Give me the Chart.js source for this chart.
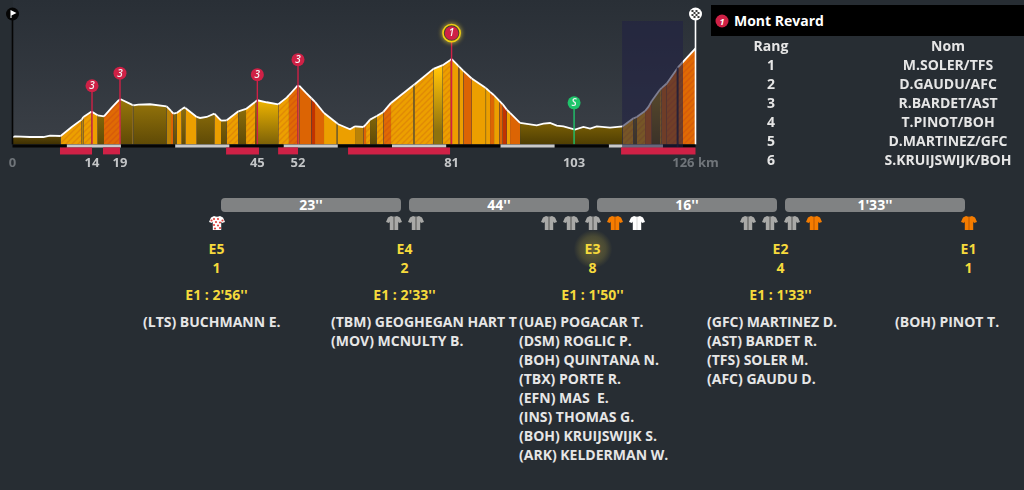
<!DOCTYPE html>
<html lang="fr">
<head>
<meta charset="utf-8">
<title>Mont Revard</title>
<script src="https://cdn.jsdelivr.net/npm/chart.js@4"></script>
<style>
    html, body { margin: 0; padding: 0; width: 1024px; height: 490px; overflow: hidden; background: #272d33; }
    body { position: relative; font-family: "Open Sans", sans-serif; font-weight: 700; font-size: 14px; color: #e6e6e6; }
    #profile { position: absolute; left: 0; top: 0; background: linear-gradient(#292f36 0, #3a3f46 144px) 13px 0 / 683px 144px no-repeat; }
    .t { position: absolute; height: 20px; line-height: 20px; white-space: pre; text-align: center; }
    .rider { text-align: left; }
    .yellow { color: #f6da3c; font-size: 14px; }
    .gap { position: absolute; top: 198px; width: 180px; height: 14px; line-height: 14px; background: #808283; border-radius: 4px; color: #fff; font-size: 14px; text-align: center; }
    .jerseys { position: absolute; top: 215px; width: 180px; height: 16px; display: flex; justify-content: center; gap: 6px; }
    .glow { position: absolute; width: 40px; height: 40px; background: radial-gradient(circle, rgba(246,218,60,.3) 0, rgba(246,218,60,.16) 45%, rgba(246,218,60,0) 68%); }
    #head { position: absolute; left: 711px; top: 5px; width: 313px; height: 31px; background: #000; }
    #head svg { position: absolute; left: 4px; top: 9px; }
    #head span { position: absolute; left: 23px; top: 0; line-height: 31px; font-size: 14px; color: #fff; }
</style>
</head>
<body>
<canvas id="profile" width="720" height="176"></canvas>
<div id="head">
    <svg width="14" height="14"><circle cx="7" cy="7" r="6.5" fill="#cf2146"/><text x="7" y="10.5" text-anchor="middle" font-size="9" font-style="italic" fill="#fff" font-family="Open Sans">1</text></svg>
    <span>Mont Revard</span>
</div>

<script>
// Stage profile: one tone per segment, the segment starts at that point
const profileKm = [0, 0.46, 3.23, 5.69, 6.92, 8.89, 10.92, 12.76, 13.07, 14.6, 15.71, 16.88, 18.3, 19.65, 19.96, 22.11, 22.29, 23.22, 25.37, 28.44, 29.24, 29.67, 30.29, 31.21, 31.7, 31.89, 33.06, 33.98, 34.6, 35.82, 37.24, 38.47, 39.52, 41.67, 43.08, 44.74, 45.17, 46.89, 49.04, 50.58, 51.0, 52.6, 52.92, 54.15, 55.14, 55.81, 57.47, 59.81, 59.99, 62.27, 63.19, 64.73, 65.22, 65.96, 67.19, 68.42, 69.83, 73.95, 74.2, 77.65, 79.37, 80.72, 81.03, 82.26, 82.44, 83.18, 84.72, 87.18, 87.36, 88.1, 88.84, 89.82, 90.44, 91.18, 91.79, 93.64, 96.71, 97.94, 99.17, 100.4, 101.63, 103.78, 105.32, 106.55, 107.78, 110.24, 112.58, 114.55, 115.16, 116.7, 117.31, 117.93, 119.46, 119.77, 120.7, 122.85, 126];
const profileAlt = [110, 120, 110, 110, 130, 125, 260, 370, 410, 490, 435, 420, 550, 665, 675, 590, 585, 595, 600, 570, 500, 460, 470, 525, 550, 545, 470, 410, 395, 410, 460, 355, 360, 495, 530, 635, 660, 630, 600, 700, 735, 880, 875, 770, 690, 635, 470, 320, 305, 225, 270, 260, 300, 370, 425, 485, 620, 885, 900, 1130, 1185, 1260, 1275, 1175, 1160, 1100, 985, 850, 840, 785, 735, 650, 600, 520, 470, 320, 285, 310, 320, 280, 270, 220, 260, 235, 270, 250, 270, 390, 410, 500, 560, 650, 820, 845, 910, 1160, 1435];
const profileTone = ['D', 'D', 'D', 'D', 'D', 'H', 'H', 'M', 'H', 'O', 'G', 'RH', 'RH', 'H', 'G', 'O', 'G', 'G', 'G', 'M', 'R', 'G', 'O', 'G', 'G', 'O', 'O', 'G', 'G', 'G', 'O', 'G', 'H', 'G', 'H', 'G', 'Y', 'Y', 'H', 'H', 'RH', 'O', 'R', 'R', 'X', 'R', 'O', 'M', 'O', 'O', 'M', 'R', 'H', 'G', 'H', 'RH', 'H', 'M', 'H', 'V', 'H', 'R', 'O', 'R', 'O', 'R', 'O', 'M', 'O', 'R', 'O', 'R', 'X', 'O', 'R', 'B', 'B', 'B', 'B', 'B', 'B', 'B', 'B', 'B', 'B', 'B', 'H', 'G', 'H', 'R', 'R', 'G', 'H', 'R', 'RH', 'RH', 'RH'];

// Axis labels
const tickKm = [0, 14.67, 19.83, 45.17, 52.67, 81, 103.6, 126];
const tickLabels = ['0', '14', '19', '45', '52', '81', '103', '126 km'];

// Climbs and sprint
const markerKm = [14.67, 19.83, 45.17, 52.67, 81, 103.6];
const markerTop = [877, 1065, 1042, 1267, 1665, 622];
const markerLabels = ['3', '3', '3', '3', '1', 'S'];

// Ground strip, red climb bars and the shaded stretch
const stripKm = [0, 10, 20, 30, 40, 50, 60, 70, 80, 90, 100, 110, 120, 126];
const climbStart = [8.76, 16.7, 39.4, 49, 61.9, 112.27];
const climbEnd = [14.67, 19.83, 45.47, 52.67, 80.72, 126];
const shadeKm = [112.45, 123.7];
const shadeLineKm = 122.7;

// Right table
const rankTitle = 'Mont Revard';
const rankNumbers = ['1', '2', '3', '4', '5', '6'];
const rankNames = ['M.SOLER/TFS', 'D.GAUDU/AFC', 'R.BARDET/AST', 'T.PINOT/BOH', 'D.MARTINEZ/GFC', 'S.KRUIJSWIJK/BOH'];

// Race groups
const gapLabels = ["23''", "44''", "16''", "1'33''"];
const groupNames = ['E5', 'E4', 'E3', 'E2', 'E1'];
const groupCounts = ['1', '2', '8', '4', '1'];
const groupDelays = ["E1 : 2'56''", "E1 : 2'33''", "E1 : 1'50''", "E1 : 1'33''", ''];
const groupJerseys = [['dots'], ['gray', 'gray'], ['gray', 'gray', 'gray', 'orange', 'white'], ['gray', 'gray', 'gray', 'orange'], ['orange']];
const groupRiders = [
    ['(LTS) BUCHMANN E.'],
    ['(TBM) GEOGHEGAN HART T', '(MOV) MCNULTY B.'],
    ['(UAE) POGACAR T.', '(DSM) ROGLIC P.', '(BOH) QUINTANA N.', '(TBX) PORTE R.', '(EFN) MAS  E.', '(INS) THOMAS G.', '(BOH) KRUIJSWIJK S.', '(ARK) KELDERMAN W.'],
    ['(GFC) MARTINEZ D.', '(AST) BARDET R.', '(TFS) SOLER M.', '(AFC) GAUDU D.'],
    ['(BOH) PINOT T.']
];

const RED = '#cf2146';
const GREEN = '#1fc46b';
const toneCache = {};

function hatch(base, stripe) {
    const c = document.createElement('canvas');
    c.width = 6;
    c.height = 6;
    const g = c.getContext('2d');
    g.fillStyle = base;
    g.fillRect(0, 0, 6, 6);
    g.strokeStyle = stripe;
    g.lineWidth = 1.4;
    g.beginPath();
    g.moveTo(-1, 7); g.lineTo(7, -1);
    g.moveTo(-1, 1); g.lineTo(1, -1);
    g.moveTo(5, 7); g.lineTo(7, 5);
    g.stroke();
    return g.createPattern(c, 'repeat');
}

function vertical(chart, altTop, colorTop, altBottom, colorBottom) {
    const y = chart.scales.y;
    const grad = chart.ctx.createLinearGradient(0, y.getPixelForValue(altTop), 0, y.getPixelForValue(altBottom));
    grad.addColorStop(0, colorTop);
    grad.addColorStop(1, colorBottom);
    return grad;
}

function toneFill(code, chart) {
    if (toneCache[code]) return toneCache[code];
    const tones = {
        O: () => '#ec9f00',
        M: () => '#b98207',
        R: () => '#dc6404',
        X: () => '#c23300',
        H: () => hatch('#ec9f00', '#e08a06'),
        RH: () => hatch('#e06a04', '#d65c0a'),
        D: () => vertical(chart, 130, '#5c4708', 0, '#3e3003'),
        G: () => vertical(chart, 660, '#96750a', 0, '#5f4a06'),
        B: () => vertical(chart, 320, '#7a5f05', 0, '#4f3e03'),
        Y: () => vertical(chart, 660, '#efb400', 0, '#7c6108'),
        V: () => vertical(chart, 1100, '#ffc107', 200, '#8f720c')
    };
    toneCache[code] = tones[code]();
    return toneCache[code];
}

function flatLine(fromKm, toKm, alt, color, width, order) {
    return {
        data: [{ x: fromKm, y: alt }, { x: toKm, y: alt }],
        borderColor: color,
        borderWidth: width,
        borderCapStyle: 'butt',
        pointRadius: 0,
        clip: false,
        order: order
    };
}

function upright(km, altBottom, altTop, color, width, order) {
    return {
        data: [{ x: km, y: altBottom }, { x: km, y: altTop }],
        borderColor: color,
        borderWidth: width,
        borderCapStyle: 'butt',
        pointRadius: 0,
        clip: false,
        order: order
    };
}

const datasets = [];

datasets.push({
    data: profileKm.map((km, i) => ({ x: km, y: profileAlt[i] })),
    borderColor: '#ffffff',
    borderWidth: 1.8,
    pointRadius: 0,
    fill: 'origin',
    segment: { backgroundColor: c => toneFill(profileTone[c.p0DataIndex], c.chart) },
    order: 9
});

markerKm.forEach((km, i) => {
    datasets.push(upright(km, 0, markerTop[i], markerLabels[i] === 'S' ? GREEN : RED, 1.4, 7));
});
datasets.push(upright(0, 0, 1950, '#050505', 1.6, 7));
datasets.push(upright(126, 0, 1950, '#ffffff', 1.6, 7));

for (let i = 0; i < stripKm.length - 1; i++) {
    datasets.push(flatLine(stripKm[i], stripKm[i + 1], -22.5, i % 2 ? '#c9c9c9' : '#050505', 3, 6));
}

datasets.push({
    data: [{ x: shadeKm[0], y: 1845 }, { x: shadeKm[1], y: 1845 }],
    borderWidth: 0,
    pointRadius: 0,
    backgroundColor: 'rgba(32, 32, 67, 0.58)',
    fill: { value: -45 },
    clip: false,
    order: 4
});
datasets.push(upright(shadeLineKm, -45, 1150, 'rgba(28, 28, 56, 0.85)', 2, 3));

climbStart.forEach((km, i) => {
    datasets.push(flatLine(km, climbEnd[i], -97.5, RED, 7, 2));
});

// Round badges on top of the pins
const badgePlugin = {
    id: 'badges',
    afterDatasetsDraw(chart) {
        const { ctx, scales } = chart;
        const px = km => scales.x.getPixelForValue(km);
        const py = alt => scales.y.getPixelForValue(alt);
        ctx.save();
        ctx.textAlign = 'center';
        ctx.textBaseline = 'middle';
        markerKm.forEach((km, i) => {
            const x = px(km);
            const y = py(markerTop[i]);
            const label = markerLabels[i];
            if (label === '1') {
                ctx.save();
                ctx.shadowColor = 'rgba(246, 218, 60, 0.7)';
                ctx.shadowBlur = 5;
                ctx.beginPath();
                ctx.arc(x, y, 8.6, 0, Math.PI * 2);
                ctx.fillStyle = '#23262b';
                ctx.fill();
                ctx.strokeStyle = '#f2cf12';
                ctx.lineWidth = 1.6;
                ctx.stroke();
                ctx.restore();
            }
            ctx.beginPath();
            ctx.arc(x, y, label === '1' ? 6.8 : 6.5, 0, Math.PI * 2);
            ctx.fillStyle = label === 'S' ? GREEN : RED;
            ctx.fill();
            ctx.fillStyle = '#f3f3f3';
            ctx.font = 'italic 600 10px "Open Sans"';
            ctx.fillText(label, x, y + 0.5);
        });

        // start flag
        const sx = px(0);
        const sy = py(1950);
        ctx.beginPath();
        ctx.arc(sx, sy, 6.5, 0, Math.PI * 2);
        ctx.fillStyle = '#050505';
        ctx.fill();
        ctx.beginPath();
        ctx.moveTo(sx - 2, sy - 4);
        ctx.lineTo(sx + 4, sy - 1);
        ctx.lineTo(sx - 1, sy + 1.5);
        ctx.lineTo(sx - 1, sy + 4);
        ctx.lineTo(sx - 2, sy + 4);
        ctx.closePath();
        ctx.fillStyle = '#ffffff';
        ctx.fill();

        // finish flag
        const fx = px(126);
        const fy = py(1950);
        ctx.beginPath();
        ctx.arc(fx, fy, 6.5, 0, Math.PI * 2);
        ctx.fillStyle = '#ffffff';
        ctx.fill();
        ctx.fillStyle = '#3a3a3a';
        for (let a = -4; a < 4; a += 2) {
            for (let b = -4; b < 4; b += 2) {
                if ((a + b + 8) % 4 === 0) ctx.fillRect(fx + a, fy + b, 2, 2);
            }
        }
        ctx.restore();
    }
};

new Chart(document.getElementById('profile').getContext('2d'), {
    type: 'line',
    data: { datasets: datasets },
    plugins: [badgePlugin],
    options: {
        responsive: false,
        animation: false,
        events: [],
        layout: { padding: { left: 12.5, right: 24.5, top: 6, bottom: 4 } },
        plugins: { legend: { display: false }, tooltip: { enabled: false } },
        scales: {
            x: {
                type: 'linear',
                min: 0,
                max: 126,
                grid: { display: false, drawTicks: false },
                border: { display: false },
                afterBuildTicks: axis => { axis.ticks = tickKm.map(v => ({ value: v })); },
                ticks: {
                    autoSkip: false,
                    maxRotation: 0,
                    padding: 1,
                    font: { family: 'Open Sans', weight: '700', size: 13 },
                    color: c => (c.index === 0 || c.index === tickKm.length - 1 ? '#70757a' : '#c3c5c7'),
                    callback: (value, i) => tickLabels[i]
                }
            },
            y: { display: false, min: -150, max: 2070 }
        }
    }
});

// Everything under and beside the profile is plain text
function addText(x, y, width, text, cls) {
    const el = document.createElement('div');
    el.className = 't' + (cls ? ' ' + cls : '');
    el.style.left = x + 'px';
    el.style.top = (y - 10) + 'px';
    el.style.width = width + 'px';
    el.textContent = text;
    document.body.appendChild(el);
    return el;
}

function jerseySvg(kind) {
    const fills = { gray: '#a9a9a7', orange: '#f57c00', white: '#ffffff', dots: '#ffffff' };
    let extra = '';
    if (kind === 'gray') extra = '<path d="M7 2h2v13H7z" fill="#7d7d7b"/>';
    if (kind === 'orange') extra = '<path d="M7 2h2v13H7z" fill="#d96a00"/>';
    if (kind === 'white') extra = '<path d="M7.3 2h1.4v13H7.3z" fill="#e3e3e3"/>';
    if (kind === 'dots') {
        extra = [[5, 4], [9, 4], [2.5, 5.5], [13.5, 5.5], [7, 7], [11, 7.5], [5, 10], [9, 10.5], [6, 13.5], [11, 13]]
            .map(d => '<circle cx="' + d[0] + '" cy="' + d[1] + '" r="1.1" fill="#e0443e"/>').join('');
    }
    return '<svg width="16" height="16" viewBox="0 0 16 16"><path d="M5 1 2 2.5 0 7l3 1 .8-1.5V15h8.4V6.5L13 8l3-1-2-4.5L11 1Q8 2.5 5 1Z" fill="' + fills[kind] + '"/>' + extra + '</svg>';
}

addText(711, 46, 120, 'Rang');
addText(848, 46, 200, 'Nom');
rankNumbers.forEach((n, i) => {
    addText(711, 65 + i * 19, 120, n);
    addText(848, 65 + i * 19, 200, rankNames[i]);
});

gapLabels.forEach((label, i) => {
    const el = document.createElement('div');
    el.className = 'gap';
    el.style.left = (221 + i * 188) + 'px';
    el.textContent = label;
    document.body.appendChild(el);
});

groupNames.forEach((name, i) => {
    const cx = 216.5 + i * 188;
    const box = document.createElement('div');
    box.className = 'jerseys';
    box.style.left = (cx - 90) + 'px';
    box.innerHTML = groupJerseys[i].map(jerseySvg).join('');
    document.body.appendChild(box);
    if (name === 'E3') {
        const glow = document.createElement('div');
        glow.className = 'glow';
        glow.style.left = (cx - 20) + 'px';
        glow.style.top = '229px';
        document.body.appendChild(glow);
    }
    addText(cx - 60, 249, 120, name, 'yellow');
    addText(cx - 60, 268, 120, groupCounts[i], 'yellow');
    if (groupDelays[i]) addText(cx - 80, 295, 160, groupDelays[i], 'yellow');
    groupRiders[i].forEach((rider, r) => {
        addText(cx - 73.5, 322 + r * 19, 188, rider, 'rider');
    });
});
</script>
</body>
</html>
